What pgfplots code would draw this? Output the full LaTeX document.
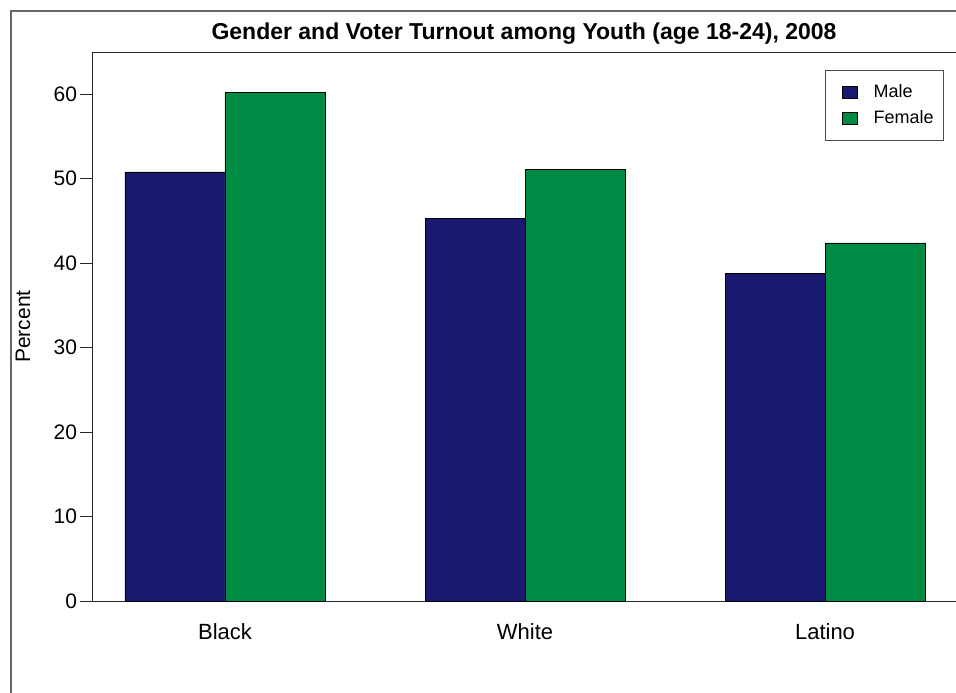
\documentclass[border=0pt]{standalone}
\usepackage{pgfplots}
\pgfplotsset{compat=1.18}
\usepackage{fontspec}
\setmainfont{Liberation Sans}
\definecolor{maleblue}{RGB}{25,25,112}
\definecolor{femgreen}{RGB}{0,139,69}
\pgfplotsset{sqlegend/.style={legend image code/.code={\path[draw=none,fill=none] (0pt,0pt) -- (19pt,0pt); \draw[##1] (5.5pt,-3pt) rectangle (13pt,3pt);}}}
\begin{document}
\begin{tikzpicture}
\useasboundingbox (0,0) rectangle (478pt,-346pt);
\clip (0,0) rectangle (478pt,-346pt);
\fill[white] (0,0) rectangle (478pt,-346pt);
\draw[black!60, line width=0.7pt] (5.5pt,-400pt) -- (5.5pt,-5.5pt) -- (500pt,-5.5pt);
\node[font=\bfseries\fontsize{11.5}{13}\selectfont] at (262pt,-17pt) {Gender and Voter Turnout among Youth (age 18-24), 2008};
\begin{axis}[
  at={(46pt,-300.5pt)}, anchor=south west,
  scale only axis, width=434pt, height=274.5pt,
  xmin=0.5567, xmax=3.45, ymin=0, ymax=65,
  axis line style={black!85, line width=0.5pt},
  ytick={0,10,...,60}, xtick={1,2,3}, xticklabels={Black,White,Latino},
  tick align=outside, major tick length=6pt, ytick pos=left,
  xtick style={draw=none},
  ytick style={black!85, line width=0.5pt},
  /pgf/number format/assume math mode=true,
  yticklabel style={font=\fontsize{10.5}{12}\selectfont, xshift=2pt},
  xticklabel style={font=\fontsize{11}{13}\selectfont, yshift=-1.5pt},
  ylabel={Percent},
  ylabel style={font=\fontsize{10.5}{12}\selectfont, at={(axis description cs:-0.0795,0.5)}, anchor=center, rotate=0},
  ybar=0pt, bar width=50pt,
  legend style={at={(0.8445,0.967)}, anchor=north west, draw=black!70, line width=0.5pt,
    font=\fontsize{9}{10.5}\selectfont, row sep=1pt, inner xsep=3pt, inner ysep=5pt},
  legend cell align=left,
]
\addplot[fill=maleblue, draw=black, line width=0.4pt, sqlegend]
  coordinates {(1,50.8) (2,45.3) (3,38.8)};
\addplot[fill=femgreen, draw=black, line width=0.4pt, sqlegend]
  coordinates {(1,60.2) (2,51.1) (3,42.4)};
\legend{Male,Female}
\end{axis}
\end{tikzpicture}
\end{document}
